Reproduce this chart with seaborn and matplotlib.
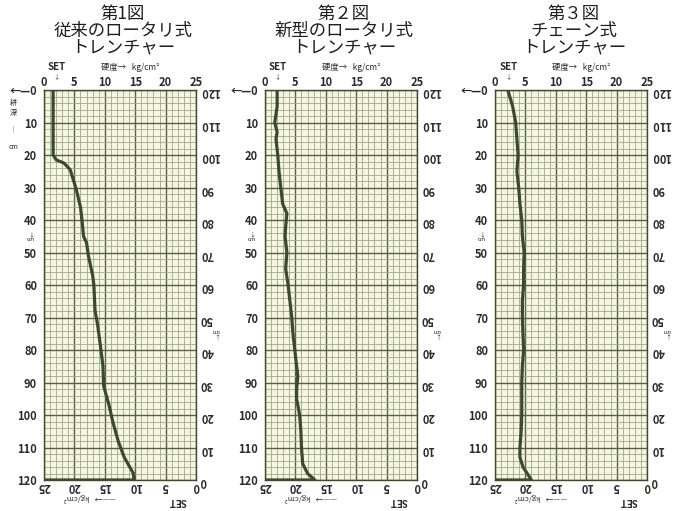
import matplotlib
matplotlib.use("Agg")
import matplotlib.pyplot as plt
import seaborn as sns
import pandas as pd

# soil hardness traces (hardness kg/cm2 vs depth cm)
depth1 = [0, 10, 20, 21.5, 22.5, 24.5, 27.5, 30.5, 34.5, 36, 41, 45, 47, 51, 57, 60,
          64, 68, 72, 79, 85, 91, 97, 102, 108, 113, 118, 120, 120]
hard1 = [1.5, 1.5, 1.5, 2.0, 3.3, 4.3, 4.8, 5.3, 5.8, 6.0, 6.3, 6.5, 7.0, 7.3, 8.0, 8.2,
         8.3, 8.4, 8.8, 9.3, 9.7, 9.8, 10.7, 11.3, 12.2, 13.2, 14.7, 14.8, 0]

depth2 = [0, 5, 10, 13, 15, 20, 25, 30, 35, 38, 42, 45, 50, 55, 60, 65, 70, 75, 80,
          85, 88, 92, 95, 100, 105, 110, 115, 118, 120, 120]
hard2 = [2.0, 2.0, 1.6, 2.0, 1.8, 2.1, 2.3, 2.6, 2.9, 3.6, 3.4, 3.3, 3.6, 3.4, 3.8,
         4.1, 4.4, 4.6, 4.9, 5.2, 5.4, 5.2, 5.2, 5.7, 5.9, 6.0, 6.2, 7.0, 8.2, 0]

depth3 = [0, 5, 10, 15, 20, 25, 30, 35, 40, 45, 50, 55, 60, 65, 70, 75, 80, 85, 90,
          95, 100, 105, 110, 113, 116, 118, 120, 120]
hard3 = [2.1, 2.9, 3.4, 3.6, 3.8, 3.6, 3.9, 4.1, 4.4, 4.5, 4.8, 4.7, 4.7, 4.5, 4.5,
         4.6, 4.7, 4.5, 4.4, 4.4, 4.4, 4.3, 4.1, 4.1, 4.6, 5.3, 6.0, 0]

titles = ["第1図\n従来のロータリ式\nトレンチャー",
          "第２図\n新型のロータリ式\nトレンチャー",
          "第３図\nチェーン式\nトレンチャー"]
set_value = [2.0, 2.0, 2.2]

x_ticks = [0, 5, 10, 15, 20, 25]
y_ticks = [0, 10, 20, 30, 40, 50, 60, 70, 80, 90, 100, 110, 120]

sns.set_style("white")
plt.rcParams['font.family'] = ['Noto Sans CJK JP', 'DejaVu Sans']

W, H = 686, 511
fig = plt.figure(figsize=(6.86, 5.11), dpi=100)

lefts = [44, 265, 495]
pw = 152
top, bottom = 90, 480

line_col = '#3b4a2c'
grid_major = '#55613f'
grid_minor = '#9ea987'
txt_col = '#2b2b2b'

data = [(hard1, depth1), (hard2, depth2), (hard3, depth3)]

for i, (hx, dy) in enumerate(data):
    ax = fig.add_axes([lefts[i] / W, 1 - bottom / H, pw / W, (bottom - top) / H])
    ax.set_facecolor('#f6f6e0')
    df = pd.DataFrame({'hardness': hx, 'depth': dy})
    sns.lineplot(data=df, x='hardness', y='depth', sort=False, estimator=None,
                 color=line_col, lw=2.3, ax=ax)
    ax.set_xlim(0, 25)
    ax.set_ylim(120, 0)
    ax.set_xlabel('')
    ax.set_ylabel('')

    ax.set_xticks(x_ticks)
    ax.set_xticks(range(0, 26), minor=True)
    ax.set_yticks(y_ticks)
    ax.set_yticks(range(0, 121, 2), minor=True)
    ax.grid(which='major', color=grid_major, lw=1.0)
    ax.grid(which='minor', color=grid_minor, lw=0.6)
    ax.set_axisbelow(True)
    ax.xaxis.tick_top()
    ax.tick_params(which='both', length=0)
    ax.tick_params(axis='x', pad=1, labelsize=8, labelcolor=txt_col)
    ax.tick_params(axis='y', pad=5, labelsize=8, labelcolor=txt_col)
    ax.set_yticklabels(['←—0'] + [str(v) for v in y_ticks[1:]], fontweight='bold')
    ax.set_xticklabels([str(v) for v in x_ticks], fontweight='bold')
    for s in ax.spines.values():
        s.set_color('#3d4a30')
        s.set_linewidth(1.0)

    # upside-down scales on bottom and right (the sheet is also read turned round)
    sec_x = ax.secondary_xaxis('bottom', functions=(lambda v: 25 - v, lambda v: 25 - v))
    sec_x.set_xticks(x_ticks)
    sec_x.tick_params(length=0, pad=0, labelsize=8, labelcolor=txt_col)
    for lab in sec_x.get_xticklabels():
        lab.set_rotation(180)
        lab.set_fontweight('bold')
    sec_y = ax.secondary_yaxis('right', functions=(lambda v: 120 - v, lambda v: 120 - v))
    sec_y.set_yticks(y_ticks)
    sec_y.set_yticklabels([str(v) for v in y_ticks[:-1]] + ['120'])
    sec_y.tick_params(length=0, pad=3, labelsize=8, labelcolor=txt_col)
    for lab in sec_y.get_yticklabels():
        lab.set_rotation(180)
        lab.set_fontweight('bold')
    for s in list(sec_x.spines.values()) + list(sec_y.spines.values()):
        s.set_visible(False)

    # headers
    cx = (lefts[i] + pw / 2 + 3) / W
    fig.text(cx, 1 - 5 / H, titles[i], ha='center', va='top', multialignment='center',
             fontsize=12.5, color='#1e1e1e', linespacing=0.92)
    tr = ax.get_xaxis_transform()
    ax.text(set_value[i], 1.045, 'SET', transform=tr, ha='center', va='bottom',
            fontsize=7, fontweight='bold', color=txt_col)
    ax.text(set_value[i], 1.025, '↓', transform=tr, ha='center', va='bottom',
            fontsize=4.5, color=txt_col)
    ax.text(9.3, 1.045, '硬度→   kg/cm²', transform=tr, ha='left', va='bottom',
            fontsize=6, color=txt_col)
    ax.text(22.0, -0.042, 'SET', transform=tr, ha='center', va='top',
            fontsize=7, fontweight='bold', color=txt_col, rotation=180)
    ax.text(7.5, -0.034, '——→   kg/cm²', transform=tr, ha='center', va='top',
            fontsize=5.5, color=txt_col, rotation=180)

    ty = ax.get_yaxis_transform()
    ax.text(-0.085, 45.2, '↓\ncm', transform=ty, ha='center', va='center',
            fontsize=4.3, color=txt_col, linespacing=0.8)
    ax.text(1.13, 74.8, '↓\ncm', transform=ty, ha='center', va='center',
            fontsize=4.3, color=txt_col, linespacing=0.8, rotation=180)
    if i == 0:
        for dval, t in zip([4.0, 7.0, 12.0, 17.5], ['耕', '深', '│', 'cm']):
            ax.text(-0.2, dval, t, transform=ty, ha='center', va='center',
                    fontsize=5, color=txt_col)

fig.savefig('out.png', dpi=100, facecolor='white')
